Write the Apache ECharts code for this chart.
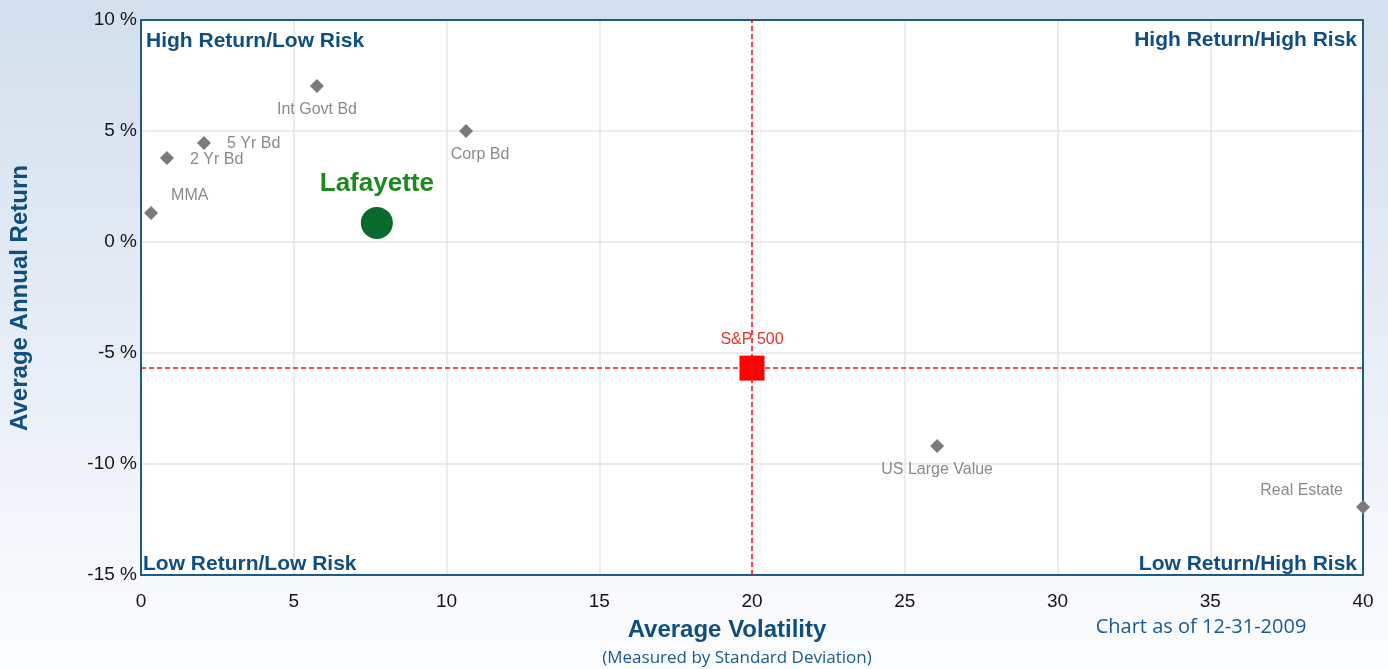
<!DOCTYPE html>
<html><head><meta charset="utf-8">
<script src="https://cdn.jsdelivr.net/npm/echarts@6/dist/echarts.min.js"></script>
<style>
html,body{margin:0;padding:0;width:1388px;height:669px;overflow:hidden;
background:linear-gradient(180deg,#d3dfed 0%,#e4ebf5 45%,#f6f8fc 85%,#fbfcfd 100%);}
#c{width:1388px;height:669px;}
</style></head><body><div id="c"></div>
<script>
const assetNames = ["MMA","2 Yr Bd","5 Yr Bd","Int Govt Bd","Corp Bd","US Large Value","Real Estate"];
const assetVolatility = [0.33,0.85,2.06,5.76,10.64,26.06,40.0];
const assetReturn = [1.31,3.78,4.46,7.03,5.0,-9.19,-11.94];
const fundName = "Lafayette";
const fundVolatility = 7.72;
const fundReturn = 0.86;
const benchName = "S&P 500";
const benchVolatility = 20.0;
const benchReturn = -5.68;
const xTicks = [0,5,10,15,20,25,30,35,40];
const yTicks = [-15,-10,-5,0,5,10];

// label placement (style only)
const labelLayout = {
  "MMA":{position:"right",offset:[9,-17]},
  "2 Yr Bd":{position:"right",offset:[12,2]},
  "5 Yr Bd":{position:"right",offset:[12,1]},
  "Int Govt Bd":{position:"bottom",offset:[0,5]},
  "Corp Bd":{position:"bottom",offset:[14,5]},
  "US Large Value":{position:"bottom",offset:[0,5]},
  "Real Estate":{position:"left",offset:[-9,-16]}
};

const chart = echarts.init(document.getElementById('c'), null, {renderer:'canvas'});
const FONT = '"Liberation Sans", Arial, sans-serif';
const FONT2 = '"Open Sans", "Liberation Sans", sans-serif';
const BLUE = '#0f4e7e';
const BORDER = '#1d5b88';

const assetData = assetNames.map((n,i)=>({
  name:n, value:[assetVolatility[i], assetReturn[i]],
  label:{show:true, formatter:'{b}', position:labelLayout[n].position, offset:labelLayout[n].offset,
    color:'#8a8a8a', fontSize:16, fontFamily:FONT, distance:4}
}));

const option = {
  backgroundColor:'transparent',
  animation:false,
  grid:{left:141, right:25, top:20, bottom:94, show:true, backgroundColor:'#ffffff',
    borderColor:BORDER, borderWidth:0},
  xAxis:[{type:'value', min:0, max:40, interval:5,
    axisLine:{show:true, onZero:false, lineStyle:{color:BORDER, width:2}}, axisTick:{show:false},
    axisLabel:{color:'#151515', fontSize:19, fontFamily:FONT, margin:17,
      formatter:v=>xTicks.includes(v)?String(v):''},
    splitLine:{show:true, lineStyle:{color:'#e6e6e6', width:1.5}}
  },{type:'value', min:0, max:40, position:'top',
    axisLine:{show:true, onZero:false, lineStyle:{color:BORDER, width:2}}, axisTick:{show:false},
    axisLabel:{show:false}, splitLine:{show:false}
  }],
  yAxis:[{type:'value', min:-15, max:10, interval:5,
    axisLine:{show:true, onZero:false, lineStyle:{color:BORDER, width:2}}, axisTick:{show:false},
    axisLabel:{color:'#151515', fontSize:19, fontFamily:FONT, margin:4, padding:[5,0,0,0],
      formatter:v=>yTicks.includes(v)?(v+' %'):''},
    splitLine:{show:true, lineStyle:{color:'#e6e6e6', width:1.5}}
  },{type:'value', min:-15, max:10, position:'right',
    axisLine:{show:true, onZero:false, lineStyle:{color:BORDER, width:2}}, axisTick:{show:false},
    axisLabel:{show:false}, splitLine:{show:false}
  }],
  graphic:[
    {type:'text', left:146, top:31, z:10, style:{text:'High Return/Low Risk', fill:BLUE, font:'bold 21px '+FONT}},
    {type:'text', right:31, top:30, z:10, style:{text:'High Return/High Risk', fill:BLUE, font:'bold 21px '+FONT}},
    {type:'text', left:143, top:554, z:10, style:{text:'Low Return/Low Risk', fill:BLUE, font:'bold 21px '+FONT}},
    {type:'text', right:31, top:554, z:10, style:{text:'Low Return/High Risk', fill:BLUE, font:'bold 21px '+FONT}},
    {type:'text', x:727, y:630, style:{text:'Average Volatility', fill:BLUE, font:'bold 24px '+FONT, textAlign:'center', textVerticalAlign:'middle'}},
    {type:'text', x:20, y:298, rotation:Math.PI/2, style:{text:'Average Annual Return', fill:BLUE, font:'bold 24px '+FONT, textAlign:'center', textVerticalAlign:'middle'}},
    {type:'text', x:1201, y:627, style:{text:'Chart as of 12-31-2009', fill:'#1b5a8c', font:'20px '+FONT2, textAlign:'center', textVerticalAlign:'middle'}},
    {type:'text', x:737, y:658, style:{text:'(Measured by Standard Deviation)', fill:'#1b5a8c', font:'17px '+FONT2, textAlign:'center', textVerticalAlign:'middle'}}
  ],
  series:[
    {type:'scatter', name:'assets', symbol:'diamond', symbolSize:14,
      itemStyle:{color:'#7a7a7a', opacity:1}, data:assetData, z:3},
    {type:'scatter', name:benchName, symbol:'rect', symbolSize:25,
      itemStyle:{color:'#ff0000', opacity:1},
      data:[{name:benchName, value:[benchVolatility, benchReturn]}],
      label:{show:true, position:'top', distance:8, formatter:'{b}', color:'#e8332b', fontSize:16, fontFamily:FONT},
      markLine:{silent:true, symbol:'none', label:{show:false},
        lineStyle:{color:'#e8141a', type:[5,3], width:1.5, opacity:1},
        data:[{xAxis:benchVolatility},{yAxis:benchReturn}]},
      z:4},
    {type:'scatter', name:fundName, symbol:'circle', symbolSize:32,
      itemStyle:{color:'#0a6a2e', opacity:1},
      data:[{name:fundName, value:[fundVolatility, fundReturn]}],
      label:{show:true, position:'top', distance:10, formatter:'{b}', color:'#1a8a1c', fontSize:26, fontWeight:'bold', fontFamily:FONT},
      z:5}
  ]
};
chart.setOption(option);
</script></body></html>
